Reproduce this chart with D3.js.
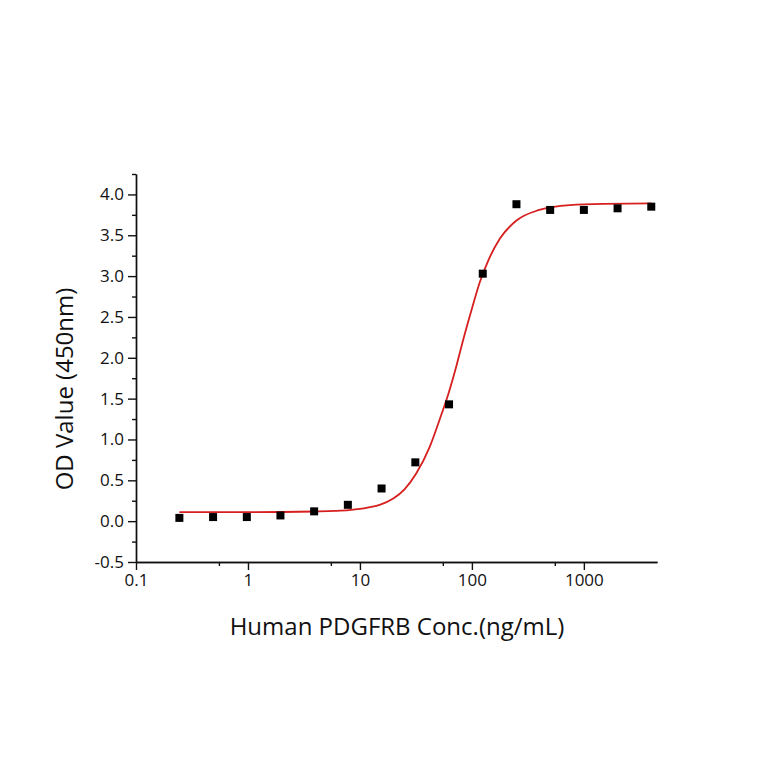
<!DOCTYPE html>
<html>
<head>
<meta charset="utf-8">
<script src="https://cdn.jsdelivr.net/npm/d3@7"></script>
<style>
  html, body { margin: 0; padding: 0; background: #fff; }
  svg text { font-family: "Open Sans", sans-serif; fill: #111; }
</style>
</head>
<body>
<script>
const w = 764;
const h = 764;

// measured points: concentration (ng/mL) and OD at 450 nm
const conc = [0.244, 0.488, 0.977, 1.95, 3.9, 7.8, 15.6, 31.25, 62.5, 125, 250, 500, 1000, 2000, 4000];
const od = [0.04, 0.05, 0.05, 0.07, 0.12, 0.20, 0.40, 0.72, 1.43, 3.03, 3.88, 3.81, 3.81, 3.83, 3.85];

// fitted curve
const fitConc = [0.244, 0.5, 1, 2, 4, 6, 8, 10, 12, 15, 20, 25, 32, 42, 52, 62, 73, 84, 100, 118, 140, 178, 250, 400, 750, 1500, 4000];
const fitOd = [0.11, 0.11, 0.11, 0.112, 0.118, 0.125, 0.135, 0.15, 0.17, 0.20, 0.28, 0.39, 0.59, 0.91, 1.26, 1.57, 1.91, 2.23, 2.60, 2.93, 3.19, 3.46, 3.68, 3.81, 3.87, 3.885, 3.89];

const xTicks = [0.1, 1, 10, 100, 1000];
const xMinorTicks = [0.55, 5.5, 55, 550];
const yTicks = [-0.5, 0, 0.5, 1, 1.5, 2, 2.5, 3, 3.5, 4];
const yMinorTicks = [-0.25, 0.25, 0.75, 1.25, 1.75, 2.25, 2.75, 3.25, 3.75, 4.25];

const xTitle = "Human PDGFRB Conc.(ng/mL)";
const yTitle = "OD Value (450nm)";

const plotLeft = 136;
const plotRight = 657;
const plotTop = 174;
const plotBottom = 562;

const svg = d3
  .select("body")
  .append("svg")
  .attr("width", w)
  .attr("height", h);

const xScale = d3.scaleLog().domain([0.1, 4500]).range([plotLeft, plotRight]);
const yScale = d3.scaleLinear().domain([-0.5, 4.25]).range([plotBottom, plotTop]);

const xAxis = d3
  .axisBottom(xScale)
  .tickValues(xTicks)
  .tickFormat((d) => String(d))
  .tickSizeInner(8)
  .tickSizeOuter(0)
  .tickPadding(4);

const xMinor = d3
  .axisBottom(xScale)
  .tickValues(xMinorTicks)
  .tickFormat("")
  .tickSizeInner(4)
  .tickSizeOuter(0);

// plain hyphen for negatives, like the original
const fmt = d3.formatLocale({ decimal: ".", thousands: ",", grouping: [3], currency: ["", ""], minus: "-" }).format(".1f");

const yAxis = d3
  .axisLeft(yScale)
  .tickValues(yTicks)
  .tickFormat(fmt)
  .tickSizeInner(8)
  .tickSizeOuter(0)
  .tickPadding(4);

const yMinor = d3
  .axisLeft(yScale)
  .tickValues(yMinorTicks)
  .tickFormat("")
  .tickSizeInner(4)
  .tickSizeOuter(0);

function styleAxis(g) {
  g.selectAll("path, line").attr("stroke", "#111").attr("stroke-width", 1.4);
  g.selectAll("text")
    .attr("font-size", 17)
    .style("font-family", '"Open Sans", sans-serif')
    .attr("fill", "#111");
}

svg
  .append("g")
  .attr("transform", "translate(0, " + plotBottom + ")")
  .call(xMinor)
  .call(styleAxis);

svg
  .append("g")
  .attr("id", "x-axis")
  .attr("transform", "translate(0, " + plotBottom + ")")
  .call(xAxis)
  .call(styleAxis);

svg
  .append("g")
  .attr("transform", "translate(" + plotLeft + ", 0)")
  .call(yMinor)
  .call(styleAxis);

svg
  .append("g")
  .attr("id", "y-axis")
  .attr("transform", "translate(" + plotLeft + ", 0)")
  .call(yAxis)
  .call(styleAxis);

// fitted curve
const fit = fitConc.map((c, i) => [c, fitOd[i]]);
const line = d3
  .line()
  .x((d) => xScale(d[0]))
  .y((d) => yScale(d[1]))
  .curve(d3.curveMonotoneX);

svg
  .append("path")
  .datum(fit)
  .attr("d", line)
  .attr("fill", "none")
  .attr("stroke", "#d61f1f")
  .attr("stroke-width", 1.8);

// points
const pts = conc.map((c, i) => [c, od[i]]);
const size = 8;
svg
  .selectAll("rect.pt")
  .data(pts)
  .enter()
  .append("rect")
  .attr("class", "pt")
  .attr("x", (d) => xScale(d[0]) - size / 2)
  .attr("y", (d) => yScale(d[1]) - size / 2)
  .attr("width", size)
  .attr("height", size)
  .attr("fill", "#000");

// titles
svg
  .append("text")
  .attr("x", 397)
  .attr("y", 635)
  .attr("text-anchor", "middle")
  .attr("font-size", 24)
  .text(xTitle);

svg
  .append("text")
  .attr("transform", "translate(73, 389) rotate(-90)")
  .attr("text-anchor", "middle")
  .attr("font-size", 24)
  .text(yTitle);
</script>
</body>
</html>
